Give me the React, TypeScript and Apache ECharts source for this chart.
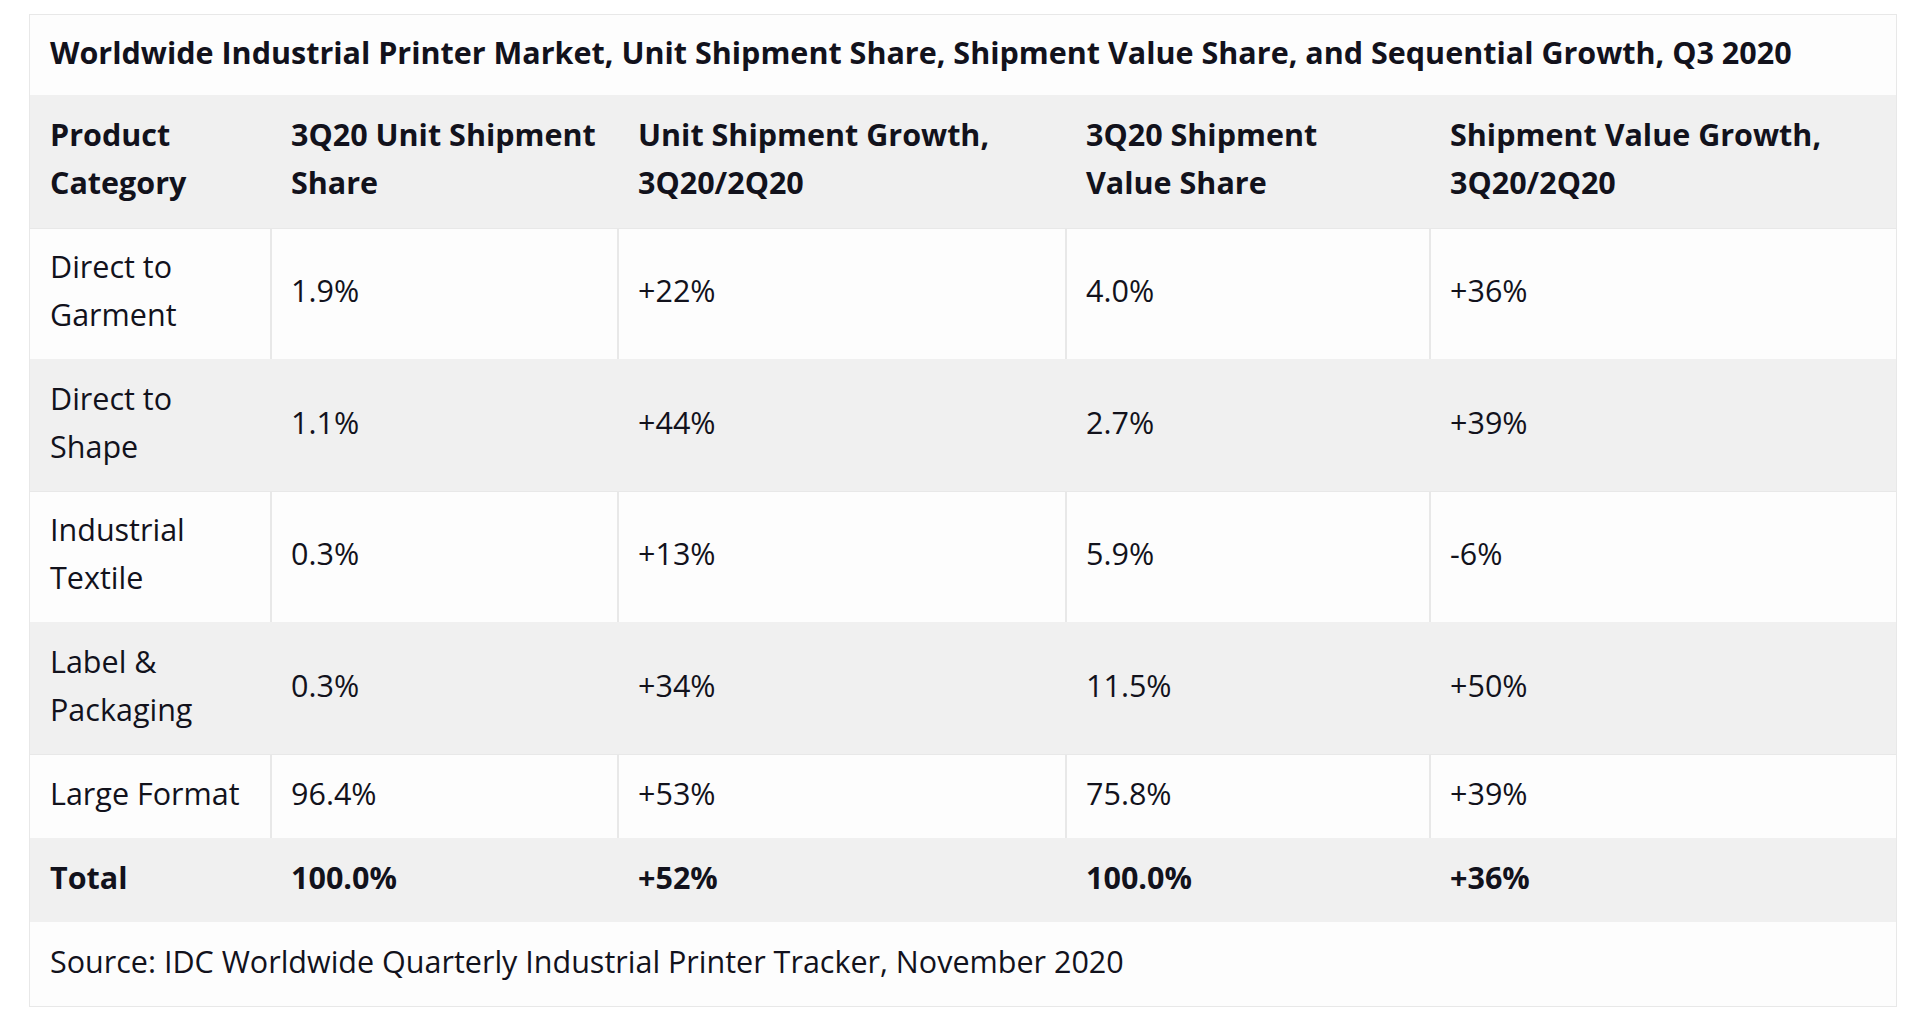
import React, { useEffect, useRef } from "react";
import * as echarts from "echarts";

const title =
  "Worldwide Industrial Printer Market, Unit Shipment Share, Shipment Value Share, and Sequential Growth, Q3 2020";
const headers = [
  ["Product", "Category"],
  ["3Q20 Unit Shipment", "Share"],
  ["Unit Shipment Growth,", "3Q20/2Q20"],
  ["3Q20 Shipment", "Value Share"],
  ["Shipment Value Growth,", "3Q20/2Q20"],
];
const categories = [
  ["Direct to", "Garment"],
  ["Direct to", "Shape"],
  ["Industrial", "Textile"],
  ["Label &", "Packaging"],
  ["Large Format"],
];
const unitShare = ["1.9%", "1.1%", "0.3%", "0.3%", "96.4%"];
const unitGrowth = ["+22%", "+44%", "+13%", "+34%", "+53%"];
const valueShare = ["4.0%", "2.7%", "5.9%", "11.5%", "75.8%"];
const valueGrowth = ["+36%", "+39%", "-6%", "+50%", "+39%"];
const totalRow = ["Total", "100.0%", "+52%", "100.0%", "+36%"];
const source = "Source: IDC Worldwide Quarterly Industrial Printer Tracker, November 2020";

// layout
const colEdges = [30, 271, 618, 1066, 1430, 1896];
const rowEdges = [15, 95, 228, 359, 491, 622, 754, 838, 922, 1006];
const PAD = 20;
const DY = -3.5;
const SIZE = 30.5;
const FONT = '"Open Sans", "Noto Sans", sans-serif';
const TEXT = "#12121c";
const GRAY = "#f0f0f0";
const WHITE = "#fdfdfd";
const LINE = "#e8e8e8";

export default function App() {
  const ref = useRef<HTMLDivElement>(null);
  useEffect(() => {
    document.body.style.margin = "0";
    const chart = echarts.init(ref.current!, null, { renderer: "svg" });
    const els: any[] = [];
    const L = colEdges[0];
    const R = colEdges[colEdges.length - 1];
    els.push({
      type: "rect",
      shape: { x: L - 1, y: rowEdges[0] - 1, width: R - L + 2, height: rowEdges[rowEdges.length - 1] - rowEdges[0] + 2 },
      style: { fill: LINE },
    });
    const rowFill = (r: number) => {
      if (r === 0 || r === 8) return WHITE;
      if (r === 1 || r === 7) return GRAY;
      return (r - 2) % 2 === 0 ? WHITE : GRAY;
    };
    for (let r = 0; r < rowEdges.length - 1; r++) {
      const y0 = rowEdges[r];
      const y1 = rowEdges[r + 1];
      const fill = rowFill(r);
      const spanAll = r === 0 || r === 8;
      if (spanAll || fill === GRAY) {
        els.push({
          type: "rect",
          shape: { x: L, y: y0, width: R - L, height: y1 - y0 },
          style: { fill },
        });
      } else {
        els.push({
          type: "rect",
          shape: { x: L, y: y0, width: R - L, height: y1 - y0 },
          style: { fill: LINE },
        });
        for (let c = 0; c < colEdges.length - 1; c++) {
          const x0 = colEdges[c] + (c === 0 ? 0 : 1);
          const x1 = colEdges[c + 1] - (c === colEdges.length - 2 ? 0 : 1);
          els.push({
            type: "rect",
            shape: { x: x0, y: y0 + 1, width: x1 - x0, height: y1 - y0 - 1 },
            style: { fill },
          });
        }
      }
    }
    const mid = (r: number) => (rowEdges[r] + rowEdges[r + 1]) / 2 + DY;
    const addText = (text: string, x: number, y: number, bold: boolean) => {
      els.push({
        type: "text",
        x,
        y,
        style: {
          text,
          fill: TEXT,
          font: `${bold ? "bold " : ""}${SIZE}px ${FONT}`,
          textVerticalAlign: "middle",
          textAlign: "left",
          lineHeight: 48,
        },
      });
    };
    addText(title, colEdges[0] + PAD, mid(0), true);
    headers.forEach((h, c) => addText(h.join("\n"), colEdges[c] + PAD, mid(1), true));
    const cols = [categories.map((c) => c.join("\n")), unitShare, unitGrowth, valueShare, valueGrowth];
    for (let i = 0; i < categories.length; i++) {
      cols.forEach((col, c) => addText(col[i], colEdges[c] + PAD, mid(2 + i), false));
    }
    totalRow.forEach((t, c) => addText(t, colEdges[c] + PAD, mid(7), true));
    addText(source, colEdges[0] + PAD, mid(8), false);

    chart.setOption({
      animation: false,
      backgroundColor: "#ffffff",
      graphic: { elements: els },
    });
    return () => chart.dispose();
  }, []);
  return <div ref={ref} style={{ width: 1920, height: 1028 }} />;
}
